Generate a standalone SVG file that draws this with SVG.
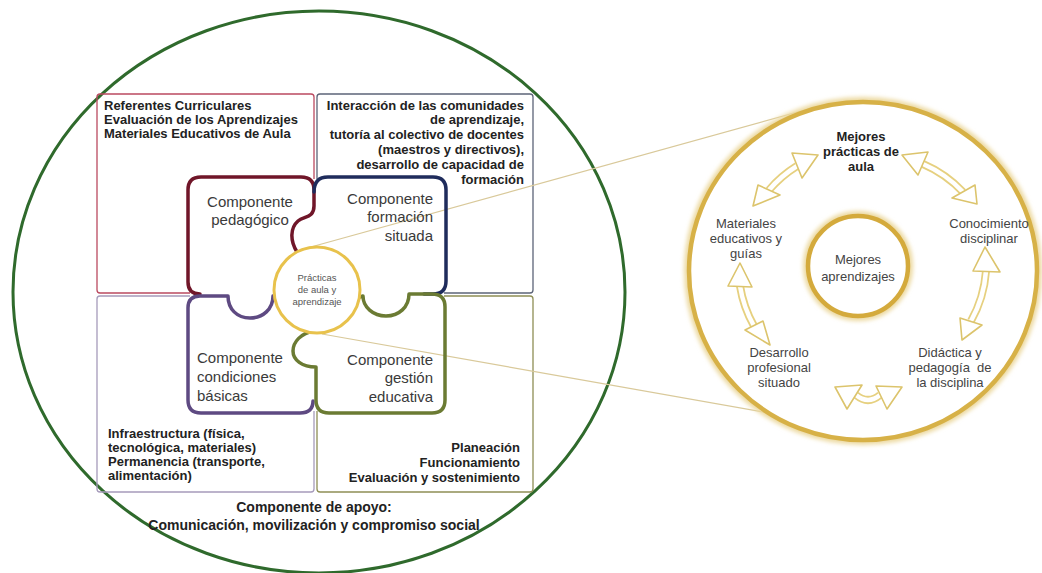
<svg xmlns="http://www.w3.org/2000/svg" width="1042" height="573" viewBox="0 0 1042 573">
<defs>
<style>
.q{font-family:"Liberation Sans",Arial,sans-serif;font-weight:bold;font-size:13px;fill:#222}
.q14{font-size:14px}
.c{font-family:"Liberation Sans",Arial,sans-serif;font-size:15px;fill:#3a3a3a}
.r{font-family:"Liberation Sans",Arial,sans-serif;font-size:13px;fill:#444}
.rb{font-family:"Liberation Sans",Arial,sans-serif;font-size:13px;font-weight:bold;fill:#222}
.s{font-family:"Liberation Sans",Arial,sans-serif;font-size:9.5px;fill:#555}
.piece{fill:none;stroke-width:3.5;stroke-linecap:round;stroke-linejoin:round}
.box{fill:none;stroke-width:1.3}
.shaftO{fill:none;stroke:#e6d07f;stroke-width:8}
.shaftI{fill:none;stroke:#ffffff;stroke-width:4.5}
.head{fill:#ffffff;stroke:#dcc46c;stroke-width:1.6;stroke-linejoin:round}
.link{fill:none;stroke:#d9c99a;stroke-width:1.2}
</style>
<filter id="glow" x="-10%" y="-10%" width="120%" height="120%">
<feGaussianBlur stdDeviation="2.2"/>
</filter>
</defs>
<rect width="1042" height="573" fill="#ffffff"/>

<g id="outer-circle">
<ellipse cx="319" cy="292" rx="306" ry="281" fill="none" stroke="#2f6a2c" stroke-width="3"/>
</g>

<g id="quadrants">
<rect id="q-pedagogico" class="box" x="97" y="94" width="217" height="199" rx="3" stroke="#bb4a60"/>
<rect id="q-formacion" class="box" x="317" y="94" width="216" height="199" rx="3" stroke="#5c6478"/>
<rect id="q-condiciones" class="box" x="97" y="296" width="217" height="196" rx="3" stroke="#a69bbb"/>
<rect id="q-gestion" class="box" x="317" y="296" width="216" height="196" rx="3" stroke="#8e8e55"/>
<rect x="190" y="179" width="254" height="232" fill="#ffffff"/>
</g>

<g id="connectors">
<line class="link" x1="300" y1="250" x2="805" y2="110"/>
<line class="link" x1="322" y1="334" x2="775" y2="414"/>
</g>

<g id="piece-pedagogico">
<path class="piece" stroke="#701629" d="M200,294 Q188,294 188,282 L188,190 Q188,177 201,177 L301,177 Q314,177 314,190 L314,206 C314,218 304,216 298,221 C290,228 290,241 297,252"/>
<text class="c" x="250" y="207" text-anchor="middle">Componente</text>
<text class="c" x="250" y="225" text-anchor="middle">pedagógico</text>
</g>

<g id="piece-formacion">
<path class="piece" stroke="#1f2c5c" d="M314,192 Q314,177 328,177 L433,177 Q446,177 446,190 L446,281 Q446,294 433,294 L424,294"/>
<text class="c" x="433" y="203.5" text-anchor="end">Componente</text>
<text class="c" x="433" y="222" text-anchor="end">formación</text>
<text class="c" x="433" y="240.5" text-anchor="end">situada</text>
</g>

<g id="piece-condiciones">
<path class="piece" stroke="#5e4a82" d="M279,297 L273,296 C273,309 263,318 250,318 C237,318 228,309 228,296 L200,296 Q188,296 188,308 L188,400 Q188,413 201,413 L300,413 Q313,413 313,401"/>
<text class="c" x="197" y="363">Componente</text>
<text class="c" x="197" y="382">condiciones</text>
<text class="c" x="197" y="400.5">básicas</text>
</g>

<g id="piece-gestion">
<path class="piece" stroke="#6b7b33" d="M314,331 C301,333 293,342 293,351 C293,360 302,367 316,367 L316,400 Q316,413 329,413 L432,413 Q445,413 445,400 L445,307 Q445,294 432,294 L409,294 C409,307 399,316 386,316 C373,316 363,307 363,296 L357,298"/>
<text class="c" x="433" y="365" text-anchor="end">Componente</text>
<text class="c" x="433" y="383" text-anchor="end">gestión</text>
<text class="c" x="433" y="402" text-anchor="end">educativa</text>
</g>

<g id="center-practicas">
<circle cx="317" cy="290" r="43" fill="#ffffff" stroke="#e8c24c" stroke-width="3"/>
<text class="s" x="317" y="281" text-anchor="middle">Prácticas</text>
<text class="s" x="317" y="293" text-anchor="middle">de aula y</text>
<text class="s" x="317" y="305" text-anchor="middle">aprendizaje</text>
</g>

<g id="text-pedagogico">
<text class="q" x="104" y="109.5">Referentes Curriculares</text>
<text class="q" x="104" y="123.7">Evaluación de los Aprendizajes</text>
<text class="q" x="104" y="137.9">Materiales Educativos de Aula</text>
</g>

<g id="text-formacion">
<text class="q" x="524" y="109.5" text-anchor="end">Interacción de las comunidades</text>
<text class="q" x="524" y="124.4" text-anchor="end">de aprendizaje,</text>
<text class="q" x="524" y="139.3" text-anchor="end">tutoría al colectivo de docentes</text>
<text class="q" x="524" y="154.2" text-anchor="end">(maestros y directivos),</text>
<text class="q" x="524" y="169.1" text-anchor="end">desarrollo de capacidad de</text>
<text class="q" x="524" y="184" text-anchor="end">formación</text>
</g>

<g id="text-condiciones">
<text class="q" x="108" y="437.5">Infraestructura (física,</text>
<text class="q" x="108" y="451.7">tecnológica, materiales)</text>
<text class="q" x="108" y="465.9">Permanencia (transporte,</text>
<text class="q" x="108" y="480.3">alimentación)</text>
</g>

<g id="text-gestion">
<text class="q" x="520" y="451.5" text-anchor="end">Planeación</text>
<text class="q" x="520" y="466.5" text-anchor="end">Funcionamiento</text>
<text class="q" x="520" y="482" text-anchor="end">Evaluación y sostenimiento</text>
</g>

<g id="text-apoyo">
<text class="q q14" x="314" y="511.5" text-anchor="middle">Componente de apoyo:</text>
<text class="q q14" x="314" y="529.5" text-anchor="middle">Comunicación, movilización y compromiso social</text>
</g>

<g id="ring">
<ellipse cx="863" cy="271" rx="174" ry="169" fill="none" stroke="#ecd9a0" stroke-width="10" filter="url(#glow)"/>
<ellipse cx="863" cy="271" rx="174" ry="169" fill="#ffffff" stroke="#d7b147" stroke-width="4.5"/>
</g>

<g id="inner-aprendizajes">
<circle cx="858" cy="266" r="50" fill="none" stroke="#ecd9a0" stroke-width="10" filter="url(#glow)"/>
<circle cx="858" cy="266" r="50" fill="#ffffff" stroke="#d4aa3c" stroke-width="4.5"/>
<text class="r" x="858" y="264" text-anchor="middle">Mejores</text>
<text class="r" x="858" y="281" text-anchor="middle">aprendizajes</text>
</g>

<g id="cycle-arrows">
<path class="shaftO" d="M769,190 A120,120 0 0 1 797,166"/>
<path class="shaftI" d="M769,190 A120,120 0 0 1 797,166"/>
<path class="shaftO" d="M923,164 A120,120 0 0 1 963,192"/>
<path class="shaftI" d="M923,164 A120,120 0 0 1 963,192"/>
<path class="shaftO" d="M986,271 A120,120 0 0 1 971,321"/>
<path class="shaftI" d="M986,271 A120,120 0 0 1 971,321"/>
<path class="shaftO" d="M856,395 Q868,405 880,395"/>
<path class="shaftI" d="M856,395 Q868,405 880,395"/>
<path class="shaftO" d="M740,286 A120,120 0 0 0 754,326"/>
<path class="shaftI" d="M740,286 A120,120 0 0 0 754,326"/>
<polygon class="head" points="818,155 792,153 802,178"/>
<polygon class="head" points="753,206 758,185 780,195"/>
<polygon class="head" points="902,155 928,152 918,175"/>
<polygon class="head" points="977,204 952,198 975,185"/>
<polygon class="head" points="985,247 973,271 1000,272"/>
<polygon class="head" points="962,340 960,318 982,325"/>
<polygon class="head" points="835,387 862,385 847,409"/>
<polygon class="head" points="876,386 902,387 887,409"/>
<polygon class="head" points="740,263 728,286 752,287"/>
<polygon class="head" points="770,345 745,330 763,321"/>
</g>

<g id="label-mejores-practicas">
<text class="rb" x="861" y="141" text-anchor="middle">Mejores</text>
<text class="rb" x="861" y="156" text-anchor="middle">prácticas de</text>
<text class="rb" x="861" y="171" text-anchor="middle">aula</text>
</g>
<g id="label-materiales">
<text class="r" x="746" y="227.5" text-anchor="middle">Materiales</text>
<text class="r" x="746" y="242.5" text-anchor="middle">educativos y</text>
<text class="r" x="746" y="257.5" text-anchor="middle">guías</text>
</g>
<g id="label-conocimiento">
<text class="r" x="989" y="227.5" text-anchor="middle">Conocimiento</text>
<text class="r" x="989" y="242.5" text-anchor="middle">disciplinar</text>
</g>
<g id="label-desarrollo">
<text class="r" x="779" y="356.5" text-anchor="middle">Desarrollo</text>
<text class="r" x="779" y="371.5" text-anchor="middle">profesional</text>
<text class="r" x="779" y="386.5" text-anchor="middle">situado</text>
</g>
<g id="label-didactica">
<text class="r" x="950" y="356.5" text-anchor="middle">Didáctica y</text>
<text class="r" x="950" y="371.5" text-anchor="middle">pedagogía&#160; de</text>
<text class="r" x="950" y="386.5" text-anchor="middle">la disciplina</text>
</g>
</svg>
